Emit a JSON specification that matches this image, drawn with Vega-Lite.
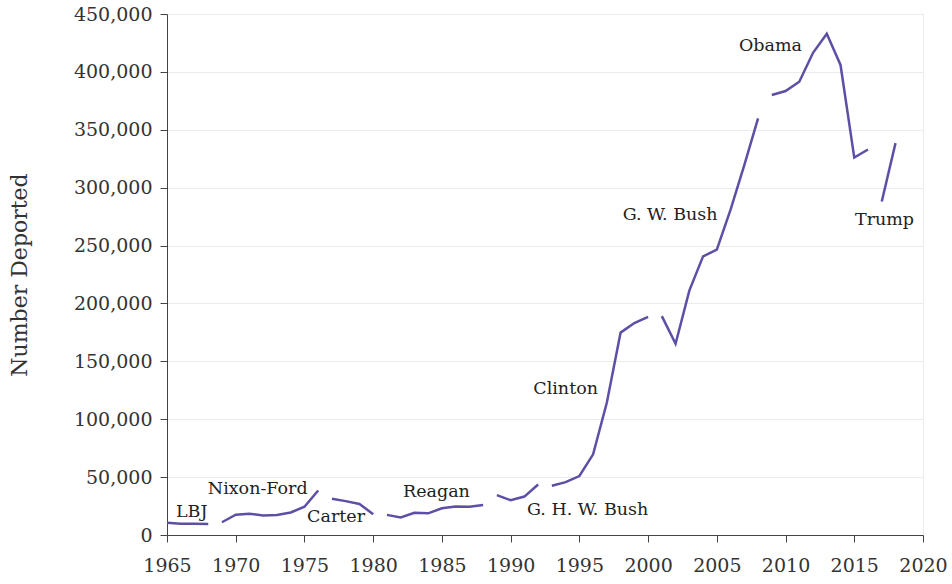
{
  "$schema": "https://vega.github.io/schema/vega-lite/v6.json",
  "width": 756,
  "height": 521,
  "autosize": {"type": "none"},
  "padding": {"left": 167, "top": 14, "right": 29, "bottom": 49},
  "background": "white",
  "config": {
    "view": {"stroke": "#ebebeb"},
    "font": "DejaVu Serif",
    "axis": {
      "labelFont": "DejaVu Serif",
      "titleFont": "DejaVu Serif",
      "labelColor": "#333333",
      "titleColor": "#333333",
      "domainColor": "#444444",
      "tickColor": "#444444",
      "gridColor": "#ebebeb",
      "labelFontSize": 19,
      "titleFontSize": 22,
      "titleFontWeight": "normal",
      "tickSize": 7,
      "labelFlush": false
    }
  },
  "datasets": {
    "deport": [
      {"year": 1965, "deported": 10572, "president": "LBJ"},
      {"year": 1966, "deported": 9680, "president": "LBJ"},
      {"year": 1967, "deported": 9728, "president": "LBJ"},
      {"year": 1968, "deported": 9590, "president": "LBJ"},
      {"year": 1969, "deported": 11030, "president": "Nixon-Ford"},
      {"year": 1970, "deported": 17469, "president": "Nixon-Ford"},
      {"year": 1971, "deported": 18294, "president": "Nixon-Ford"},
      {"year": 1972, "deported": 16883, "president": "Nixon-Ford"},
      {"year": 1973, "deported": 17346, "president": "Nixon-Ford"},
      {"year": 1974, "deported": 19413, "president": "Nixon-Ford"},
      {"year": 1975, "deported": 24432, "president": "Nixon-Ford"},
      {"year": 1976, "deported": 38471, "president": "Nixon-Ford"},
      {"year": 1977, "deported": 31263, "president": "Carter"},
      {"year": 1978, "deported": 29277, "president": "Carter"},
      {"year": 1979, "deported": 26825, "president": "Carter"},
      {"year": 1980, "deported": 18013, "president": "Carter"},
      {"year": 1981, "deported": 17379, "president": "Reagan"},
      {"year": 1982, "deported": 15216, "president": "Reagan"},
      {"year": 1983, "deported": 19211, "president": "Reagan"},
      {"year": 1984, "deported": 18696, "president": "Reagan"},
      {"year": 1985, "deported": 23105, "president": "Reagan"},
      {"year": 1986, "deported": 24592, "president": "Reagan"},
      {"year": 1987, "deported": 24336, "president": "Reagan"},
      {"year": 1988, "deported": 25829, "president": "Reagan"},
      {"year": 1989, "deported": 34427, "president": "G. H. W. Bush"},
      {"year": 1990, "deported": 30039, "president": "G. H. W. Bush"},
      {"year": 1991, "deported": 33189, "president": "G. H. W. Bush"},
      {"year": 1992, "deported": 43671, "president": "G. H. W. Bush"},
      {"year": 1993, "deported": 42542, "president": "Clinton"},
      {"year": 1994, "deported": 45674, "president": "Clinton"},
      {"year": 1995, "deported": 50924, "president": "Clinton"},
      {"year": 1996, "deported": 69680, "president": "Clinton"},
      {"year": 1997, "deported": 114432, "president": "Clinton"},
      {"year": 1998, "deported": 174813, "president": "Clinton"},
      {"year": 1999, "deported": 183114, "president": "Clinton"},
      {"year": 2000, "deported": 188467, "president": "Clinton"},
      {"year": 2001, "deported": 189026, "president": "G. W. Bush"},
      {"year": 2002, "deported": 165168, "president": "G. W. Bush"},
      {"year": 2003, "deported": 211098, "president": "G. W. Bush"},
      {"year": 2004, "deported": 240665, "president": "G. W. Bush"},
      {"year": 2005, "deported": 246431, "president": "G. W. Bush"},
      {"year": 2006, "deported": 280974, "president": "G. W. Bush"},
      {"year": 2007, "deported": 319382, "president": "G. W. Bush"},
      {"year": 2008, "deported": 359795, "president": "G. W. Bush"},
      {"year": 2009, "deported": 380000, "president": "Obama"},
      {"year": 2010, "deported": 383500, "president": "Obama"},
      {"year": 2011, "deported": 391500, "president": "Obama"},
      {"year": 2012, "deported": 416500, "president": "Obama"},
      {"year": 2013, "deported": 433000, "president": "Obama"},
      {"year": 2014, "deported": 406000, "president": "Obama"},
      {"year": 2015, "deported": 326000, "president": "Obama"},
      {"year": 2016, "deported": 333000, "president": "Obama"},
      {"year": 2017, "deported": 288000, "president": "Trump"},
      {"year": 2018, "deported": 338500, "president": "Trump"}
    ],
    "labels": [
      {"label": "LBJ", "x": 1966.8, "y": 19900},
      {"label": "Nixon-Ford", "x": 1971.6, "y": 39700},
      {"label": "Carter", "x": 1977.3, "y": 15500},
      {"label": "Reagan", "x": 1984.6, "y": 37100},
      {"label": "G. H. W. Bush", "x": 1995.6, "y": 21600},
      {"label": "Clinton", "x": 1994.0, "y": 126000},
      {"label": "G. W. Bush", "x": 2001.6, "y": 276000},
      {"label": "Obama", "x": 2008.9, "y": 422000},
      {"label": "Trump", "x": 2017.2, "y": 272000}
    ]
  },
  "layer": [
    {
      "data": {"name": "deport"},
      "mark": {"type": "line", "color": "#5b50a6", "strokeWidth": 2.5},
      "encoding": {
        "x": {
          "field": "year",
          "type": "quantitative",
          "scale": {"domain": [1965, 2020], "nice": false, "zero": false},
          "axis": {"title": null, "grid": false, "values": [1965, 1970, 1975, 1980, 1985, 1990, 1995, 2000, 2005, 2010, 2015, 2020], "format": "d", "labelPadding": 14}
        },
        "y": {
          "field": "deported",
          "type": "quantitative",
          "scale": {"domain": [0, 450000], "nice": false},
          "axis": {"title": "Number Deported", "values": [0, 50000, 100000, 150000, 200000, 250000, 300000, 350000, 400000, 450000], "format": ",d", "labelPadding": 8, "titlePadding": 42}
        },
        "detail": {"field": "president", "type": "nominal"}
      }
    },
    {
      "data": {"name": "labels"},
      "mark": {"type": "text", "font": "DejaVu Serif", "fontSize": 17.5, "color": "#222222", "align": "center", "baseline": "middle"},
      "encoding": {
        "x": {"field": "x", "type": "quantitative"},
        "y": {"field": "y", "type": "quantitative"},
        "text": {"field": "label", "type": "nominal"}
      }
    }
  ]
}
